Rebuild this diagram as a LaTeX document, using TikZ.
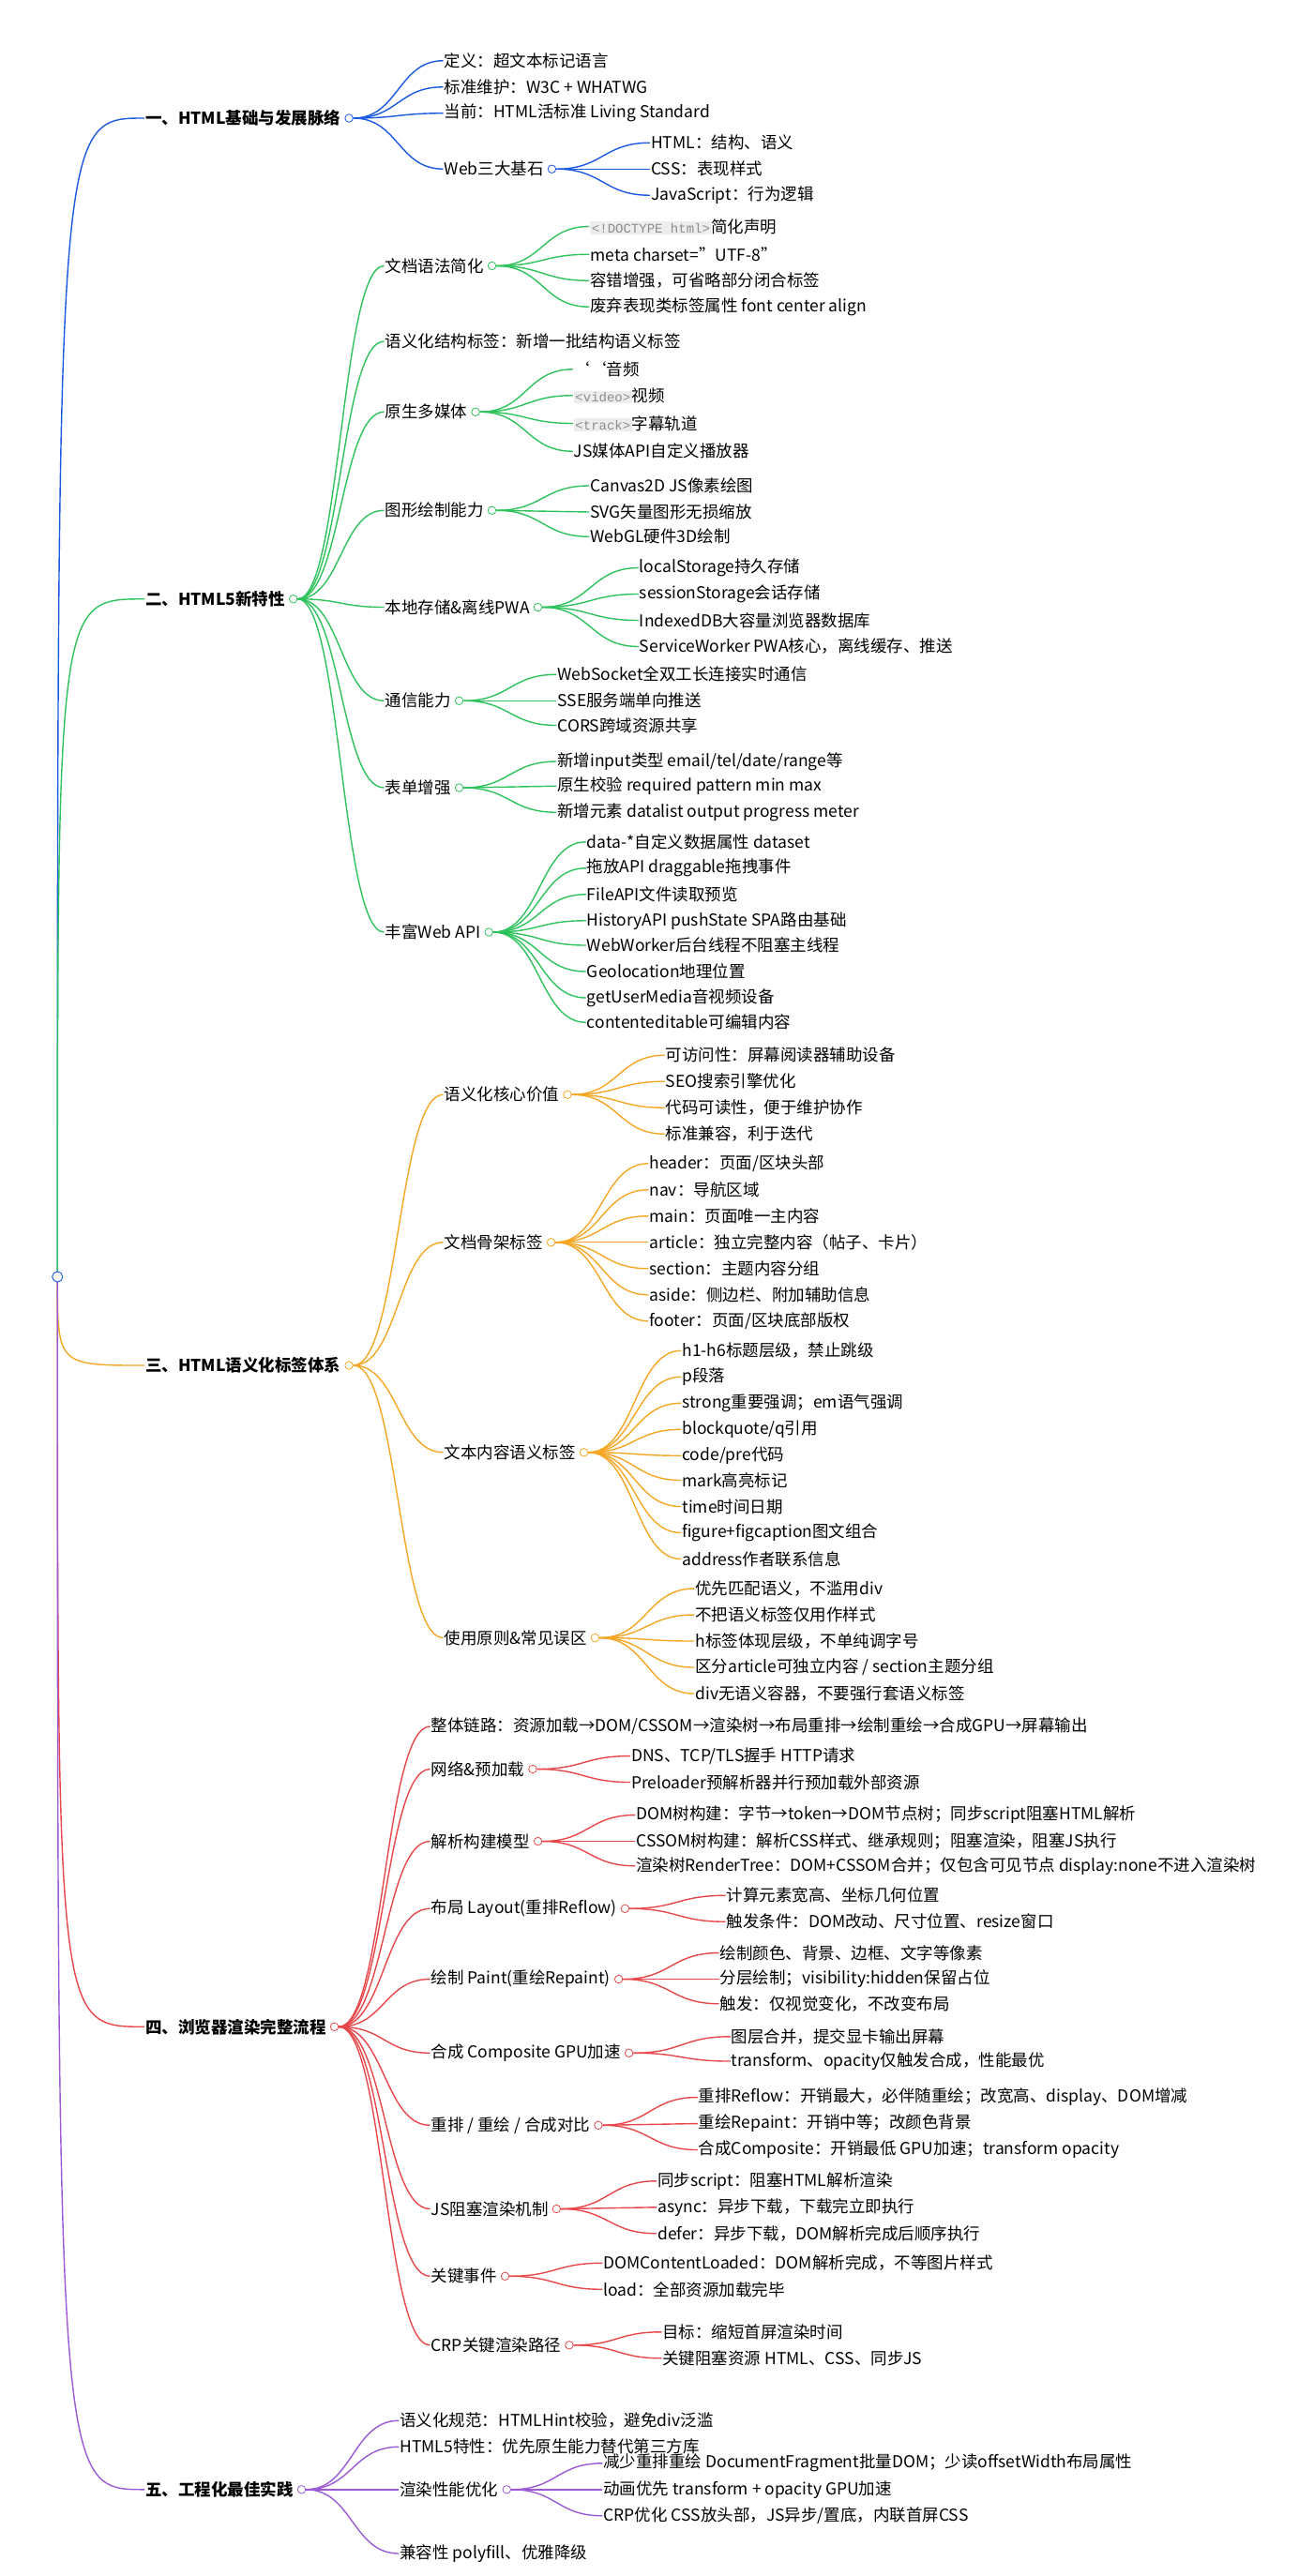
\documentclass[tikz,border=0pt]{standalone}
\usepackage{fontspec}
\setmainfont{Noto Sans CJK SC}
\setmonofont{Liberation Mono}
\usetikzlibrary{calc,positioning}
\definecolor{cBlue}{HTML}{1A5AE0}
\definecolor{cGreen}{HTML}{2EC25C}
\definecolor{cOrange}{HTML}{F5A623}
\definecolor{cRed}{HTML}{E8474A}
\definecolor{cPurple}{HTML}{9B59D6}
\newcommand{\tagbox}[1]{{\setlength{\fboxsep}{1.5pt}\colorbox{black!7}{\ttfamily\color{black!45}\fontsize{14pt}{14pt}\selectfont #1}}}
% branch curve: colour, from, to
\newcommand{\conn}[3]{\draw[link,#1] let \p1=(#2), \p2=(#3) in
  (\p1) .. controls (0.5*\x1+0.5*\x2,\y1) and (0.5*\x1+0.5*\x2,\y2) .. (\p2);}
% root curve: colour, to
\newcommand{\rootconn}[2]{\draw[link,#1] let \p1=(R), \p2=(#2) in
  (\p1) .. controls (\x1,\y2) .. (\p2);}
% leaves: parent, x, colour, list of y/text
\newcommand{\leaves}[4]{%
  \foreach \y/\t in {#4} {
    \node[txt] (n) at (#2,\y) {\t};
    \conn{#3}{#1.east}{n.west}
  }}
\tikzset{
  txt/.style={anchor=west,inner sep=1pt,font=\fontsize{17.5pt}{20pt}\selectfont},
  main/.style={txt,font=\fontsize{17.5pt}{20pt}\selectfont\bfseries},
  hub/.style={draw,circle,thick,fill=white,inner sep=0pt,minimum size=8.5pt,right=3pt of #1},
  link/.style={line width=1.4pt}
}
\begin{document}
\begin{tikzpicture}[x=1.75pt,y=-1.75pt]
\useasboundingbox (0,0) rectangle (800,1569.7);
\node[draw=cBlue,circle,thick,fill=white,inner sep=0pt,minimum size=11pt] (R) at (35,778) {};
% branch 1
\node[main] (M1) at (88,72) {一、HTML基础与发展脉络};
\node[hub=M1,draw=cBlue] (M1c) {};
\rootconn{cBlue}{M1.west}
\leaves{M1c}{270}{cBlue}{37/定义：超文本标记语言,53/标准维护：W3C + WHATWG,69/当前：HTML活标准 Living Standard}
\node[txt] (B14) at (270,103) {Web三大基石};
\node[hub=B14,draw=cBlue] (B14c) {};
\conn{cBlue}{M1c.east}{B14.west}
\leaves{B14c}{396}{cBlue}{87/HTML：结构、语义,103/CSS：表现样式,119/JavaScript：行为逻辑}
% branch 2
\node[main] (M2) at (88,365) {二、HTML5新特性};
\node[hub=M2,draw=cGreen] (M2c) {};
\rootconn{cGreen}{M2.west}
\node[txt] (B21) at (234,162) {文档语法简化};
\node[hub=B21,draw=cGreen] (B21c) {};
\leaves{B21c}{359}{cGreen}{138/{\tagbox{<!DOCTYPE html>}简化声明},155/{meta charset="UTF-8"},171/{容错增强，可省略部分闭合标签},187/{废弃表现类标签属性 font center align}}
\node[txt] (B22) at (234,208) {语义化结构标签：新增一批结构语义标签};
\node[txt] (B23) at (234,251) {原生多媒体};
\node[hub=B23,draw=cGreen] (B23c) {};
\leaves{B23c}{349}{cGreen}{225/{\symbol{96}\symbol{96}音频},241/{\tagbox{<video>}视频},258/{\tagbox{<track>}字幕轨道},275/{JS媒体API自定义播放器}}
\node[txt] (B24) at (234,311) {图形绘制能力};
\node[hub=B24,draw=cGreen] (B24c) {};
\leaves{B24c}{359}{cGreen}{296/{Canvas2D JS像素绘图},312/{SVG矢量图形无损缩放},327/{WebGL硬件3D绘制}}
\node[txt] (B25) at (234,370) {本地存储\&离线PWA};
\node[hub=B25,draw=cGreen] (B25c) {};
\leaves{B25c}{389}{cGreen}{346/{localStorage持久存储},362/{sessionStorage会话存储},378/{IndexedDB大容量浏览器数据库},394/{ServiceWorker PWA核心，离线缓存、推送}}
\node[txt] (B26) at (234,427) {通信能力};
\node[hub=B26,draw=cGreen] (B26c) {};
\leaves{B26c}{339}{cGreen}{411/{WebSocket全双工长连接实时通信},427/{SSE服务端单向推送},442/{CORS跨域资源共享}}
\node[txt] (B27) at (234,480) {表单增强};
\node[hub=B27,draw=cGreen] (B27c) {};
\leaves{B27c}{339}{cGreen}{464/{新增input类型 email/tel/date/range等},479/{原生校验 required pattern min max},495/{新增元素 datalist output progress meter}}
\node[txt] (B28) at (234,568) {丰富Web API};
\node[hub=B28,draw=cGreen] (B28c) {};
\leaves{B28c}{357}{cGreen}{513/{data-*自定义数据属性 dataset},529/{拖放API draggable拖拽事件},545/{FileAPI文件读取预览},561/{HistoryAPI pushState SPA路由基础},576/{WebWorker后台线程不阻塞主线程},592/{Geolocation地理位置},608/{getUserMedia音视频设备},623/{contenteditable可编辑内容}}
\foreach \b in {B21,B22,B23,B24,B25,B26,B27,B28}
  {\conn{cGreen}{M2c.east}{\b.west}}
% branch 3
\node[main] (M3) at (88,832) {三、HTML语义化标签体系};
\node[hub=M3,draw=cOrange] (M3c) {};
\rootconn{cOrange}{M3.west}
\node[txt] (B31) at (270,667) {语义化核心价值};
\node[hub=B31,draw=cOrange] (B31c) {};
\leaves{B31c}{405}{cOrange}{643/{可访问性：屏幕阅读器辅助设备},659/{SEO搜索引擎优化},675/{代码可读性，便于维护协作},691/{标准兼容，利于迭代}}
\node[txt] (B32) at (270,757) {文档骨架标签};
\node[hub=B32,draw=cOrange] (B32c) {};
\leaves{B32c}{395}{cOrange}{709/{header：页面/区块头部},725/{nav：导航区域},741/{main：页面唯一主内容},757/{article：独立完整内容（帖子、卡片）},773/{section：主题内容分组},789/{aside：侧边栏、附加辅助信息},805/{footer：页面/区块底部版权}}
\node[txt] (B33) at (270,885) {文本内容语义标签};
\node[hub=B33,draw=cOrange] (B33c) {};
\leaves{B33c}{415}{cOrange}{823/{h1-h6标题层级，禁止跳级},839/{p段落},855/{strong重要强调；em语气强调},871/{blockquote/q引用},887/{code/pre代码},902/{mark高亮标记},918/{time时间日期},934/{figure+figcaption图文组合},950/{address作者联系信息}}
\node[txt] (B34) at (270,998) {使用原则\&常见误区};
\node[hub=B34,draw=cOrange] (B34c) {};
\leaves{B34c}{423}{cOrange}{968/{优先匹配语义，不滥用div},984/{不把语义标签仅用作样式},1000/{h标签体现层级，不单纯调字号},1016/{区分article可独立内容 / section主题分组},1032/{div无语义容器，不要强行套语义标签}}
\foreach \b in {B31,B32,B33,B34}
  {\conn{cOrange}{M3c.east}{\b.west}}
% branch 4
\node[main] (M4) at (88,1235) {四、浏览器渲染完整流程};
\node[hub=M4,draw=cRed] (M4c) {};
\rootconn{cRed}{M4.west}
\node[txt] (B41) at (262,1052) {整体链路：资源加载→DOM/CSSOM→渲染树→布局重排→绘制重绘→合成GPU→屏幕输出};
\node[txt] (B42) at (262,1078) {网络\&预加载};
\node[hub=B42,draw=cRed] (B42c) {};
\leaves{B42c}{384}{cRed}{1070/{DNS、TCP/TLS握手 HTTP请求},1086/{Preloader预解析器并行预加载外部资源}}
\node[txt] (B43) at (262,1122) {解析构建模型};
\node[hub=B43,draw=cRed] (B43c) {};
\leaves{B43c}{387}{cRed}{1106/{DOM树构建：字节→token→DOM节点树；同步script阻塞HTML解析},1122/{CSSOM树构建：解析CSS样式、继承规则；阻塞渲染，阻塞JS执行},1137/{渲染树RenderTree：DOM+CSSOM合并；仅包含可见节点 display:none不进入渲染树}}
\node[txt] (B44) at (262,1163) {布局 Layout(重排Reflow)};
\node[hub=B44,draw=cRed] (B44c) {};
\leaves{B44c}{442}{cRed}{1155/{计算元素宽高、坐标几何位置},1171/{触发条件：DOM改动、尺寸位置、resize窗口}}
\node[txt] (B45) at (262,1206) {绘制 Paint(重绘Repaint)};
\node[hub=B45,draw=cRed] (B45c) {};
\leaves{B45c}{438}{cRed}{1190/{绘制颜色、背景、边框、文字等像素},1206/{分层绘制；visibility:hidden保留占位},1221/{触发：仅视觉变化，不改变布局}}
\node[txt] (B46) at (262,1251) {合成 Composite GPU加速};
\node[hub=B46,draw=cRed] (B46c) {};
\leaves{B46c}{445}{cRed}{1241/{图层合并，提交显卡输出屏幕},1256/{transform、opacity仅触发合成，性能最优}}
\node[txt] (B47) at (262,1295) {重排 / 重绘 / 合成对比};
\node[hub=B47,draw=cRed] (B47c) {};
\leaves{B47c}{425}{cRed}{1278/{重排Reflow：开销最大，必伴随重绘；改宽高、display、DOM增减},1294/{重绘Repaint：开销中等；改颜色背景},1310/{合成Composite：开销最低 GPU加速；transform opacity}}
\node[txt] (B48) at (262,1346) {JS阻塞渲染机制};
\node[hub=B48,draw=cRed] (B48c) {};
\leaves{B48c}{400}{cRed}{1329/{同步script：阻塞HTML解析渲染},1345/{async：异步下载，下载完立即执行},1361/{defer：异步下载，DOM解析完成后顺序执行}}
\node[txt] (B49) at (262,1387) {关键事件};
\node[hub=B49,draw=cRed] (B49c) {};
\leaves{B49c}{367}{cRed}{1379/{DOMContentLoaded：DOM解析完成，不等图片样式},1395/{load：全部资源加载完毕}}
\node[txt] (B4A) at (262,1429) {CRP关键渲染路径};
\node[hub=B4A,draw=cRed] (B4Ac) {};
\leaves{B4Ac}{403}{cRed}{1421/{目标：缩短首屏渲染时间},1437/{关键阻塞资源 HTML、CSS、同步JS}}
\foreach \b in {B41,B42,B43,B44,B45,B46,B47,B48,B49,B4A}
  {\conn{cRed}{M4c.east}{\b.west}}
% branch 5
\node[main] (M5) at (88,1517) {五、工程化最佳实践};
\node[hub=M5,draw=cPurple] (M5c) {};
\rootconn{cPurple}{M5.west}
\node[txt] (B51) at (243,1475) {语义化规范：HTMLHint校验，避免div泛滥};
\node[txt] (B52) at (243,1491) {HTML5特性：优先原生能力替代第三方库};
\node[txt] (B53) at (243,1517) {渲染性能优化};
\node[hub=B53,draw=cPurple] (B53c) {};
\leaves{B53c}{367}{cPurple}{1501/{减少重排重绘 DocumentFragment批量DOM；少读offsetWidth布局属性},1517/{动画优先 transform + opacity GPU加速},1533/{CRP优化 CSS放头部，JS异步/置底，内联首屏CSS}}
\node[txt] (B54) at (243,1556) {兼容性 polyfill、优雅降级};
\foreach \b in {B51,B52,B53,B54}
  {\conn{cPurple}{M5c.east}{\b.west}}
\node[draw=cBlue,circle,thick,fill=white,inner sep=0pt,minimum size=11pt] at (R) {};
\end{tikzpicture}
\end{document}
